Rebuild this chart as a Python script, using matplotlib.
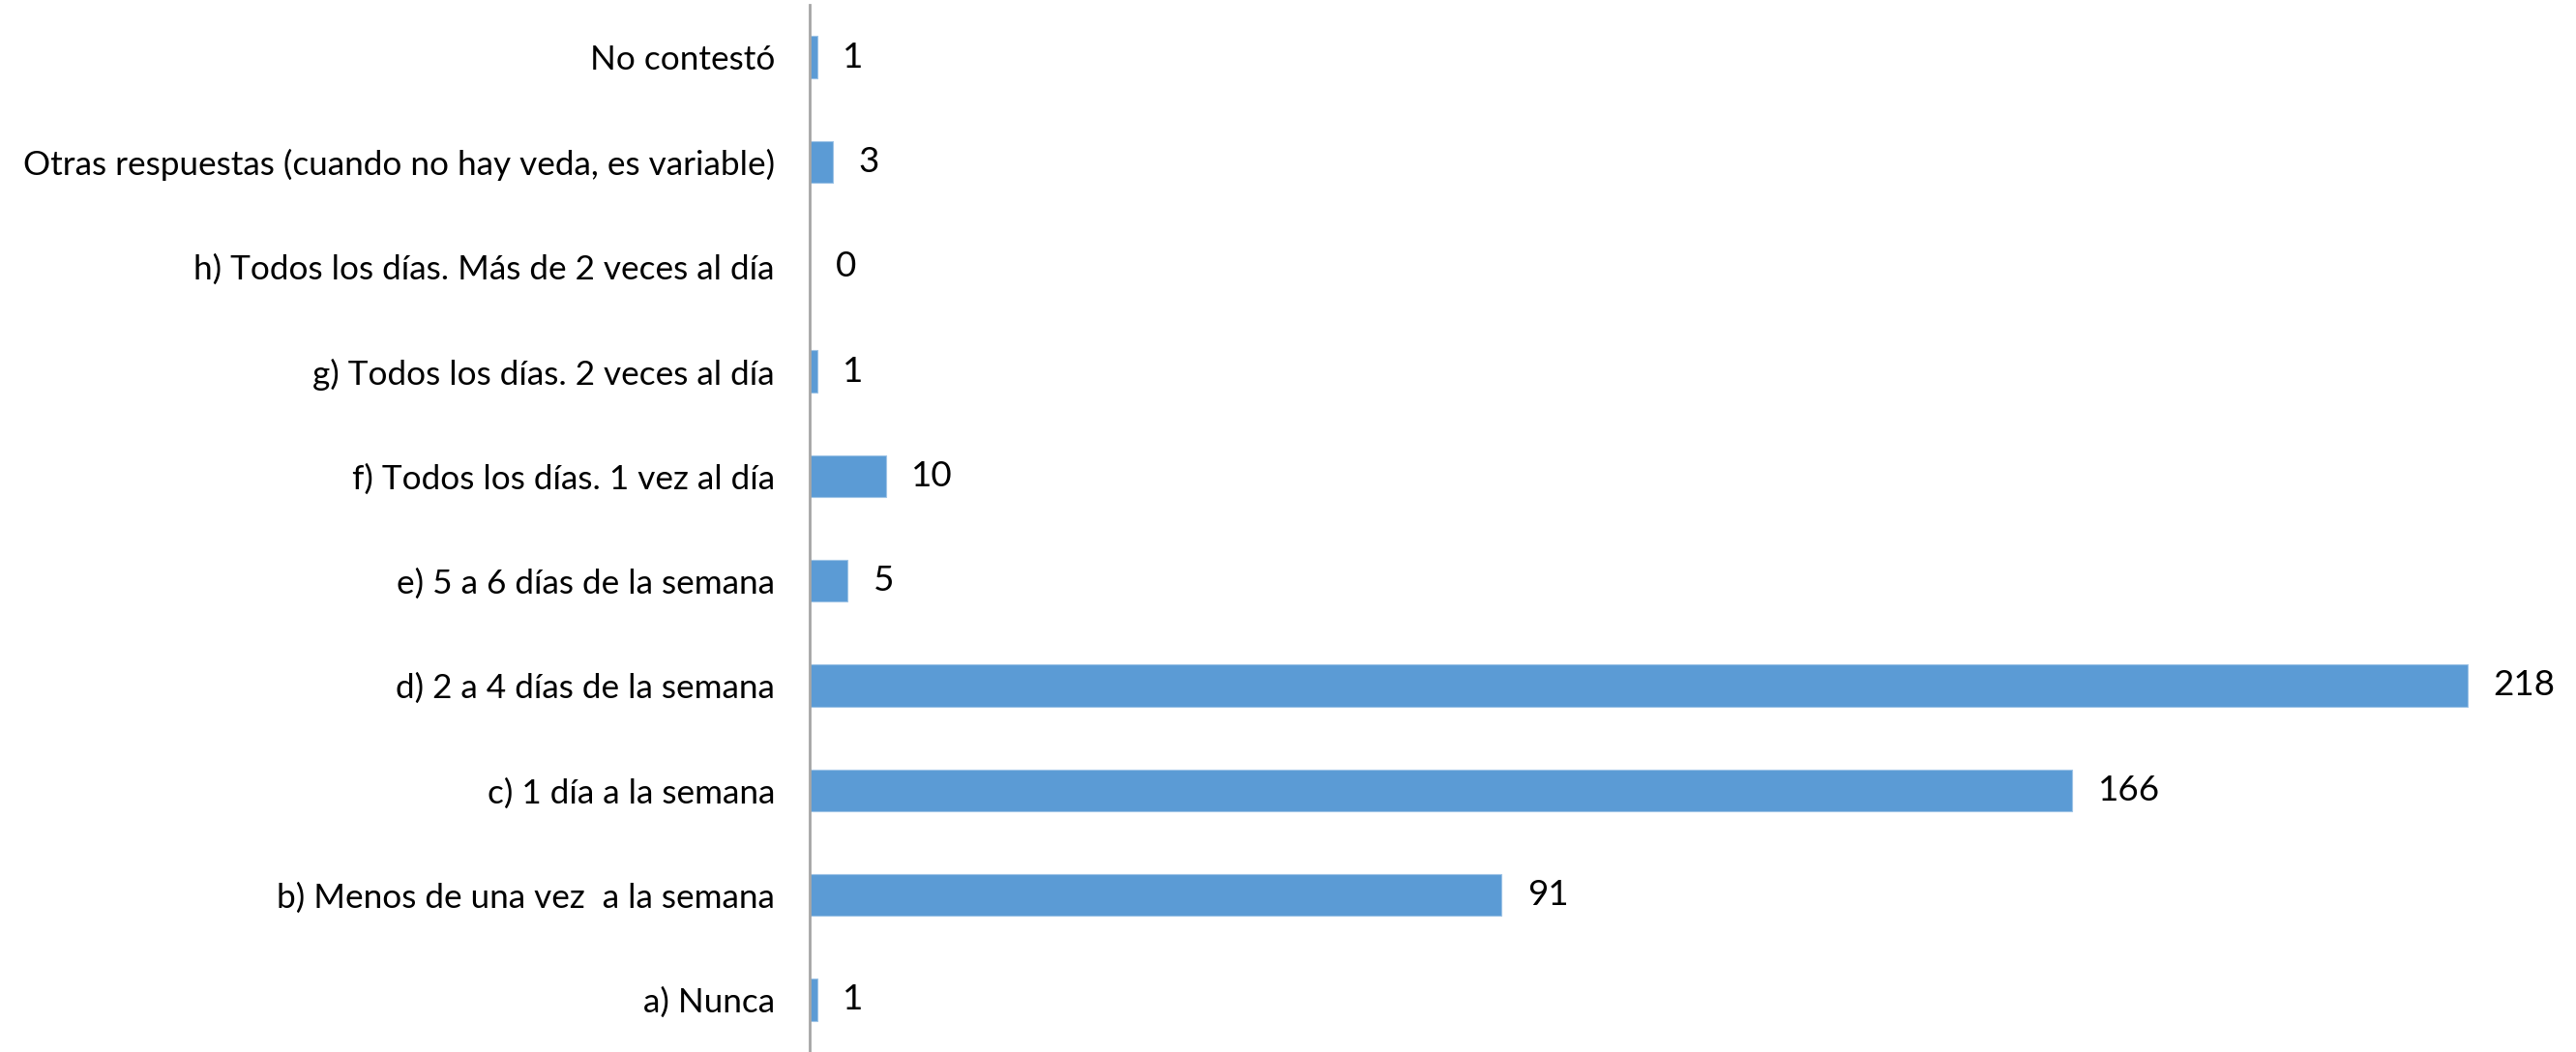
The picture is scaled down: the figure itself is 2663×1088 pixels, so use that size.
import matplotlib.pyplot as plt

plt.rcParams['font.family'] = ['Lato', 'DejaVu Sans']

# categories from bottom to top
categories = [
    "a) Nunca",
    "b) Menos de una vez  a la semana",
    "c) 1 día a la semana",
    "d) 2 a 4 días de la semana",
    "e) 5 a 6 días de la semana",
    "f) Todos los días. 1 vez al día",
    "g) Todos los días. 2 veces al día",
    "h) Todos los días. Más de 2 veces al día",
    "Otras respuestas (cuando no hay veda, es variable)",
    "No contestó",
]
values = [1, 91, 166, 218, 5, 10, 1, 0, 3, 1]

fig = plt.figure(figsize=(26.63, 10.88), dpi=100)
ax = fig.add_axes([837 / 2663, 0.0, (2640 - 837) / 2663, 1083 / 1088])

ypos = list(range(len(categories)))
ax.barh(ypos, values, height=0.4, color='#5B9BD5', edgecolor='#9DC3E6', linewidth=0.8)

for y, v in zip(ypos, values):
    ax.annotate(str(v), (v, y), xytext=(19, 0), textcoords='offset points',
                va='center', ha='left', fontsize=26.5, color='black')

ax.set_yticks(ypos)
ax.set_yticklabels(categories, fontsize=25.3)
ax.tick_params(axis='y', length=0, pad=26)
ax.set_xticks([])
ax.set_xlim(0, (2640 - 837) / 7.862)
ax.set_ylim(-0.5, 9.5)

for s in ['top', 'right', 'bottom']:
    ax.spines[s].set_visible(False)
ax.spines['left'].set_color('#A6A6A6')
ax.spines['left'].set_linewidth(2)

fig.savefig('out.png', dpi=100)
